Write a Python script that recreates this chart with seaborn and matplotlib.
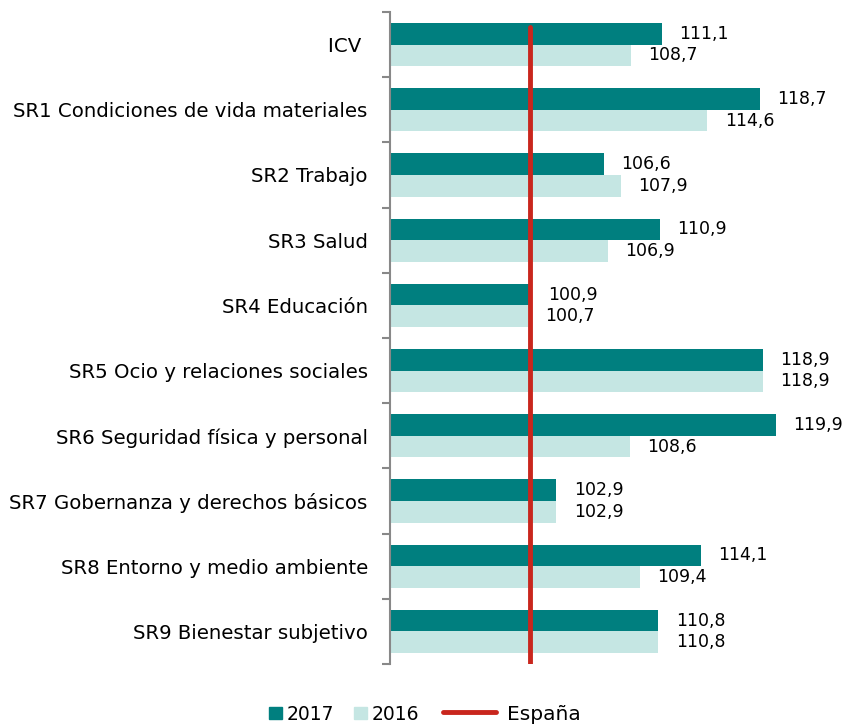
import numpy as np
import pandas as pd
import matplotlib.pyplot as plt
import seaborn as sns
from matplotlib.lines import Line2D
from matplotlib.patches import Patch

# data
categorias = ["ICV ", "SR1 Condiciones de vida materiales", "SR2 Trabajo", "SR3 Salud",
              "SR4 Educación", "SR5 Ocio y relaciones sociales",
              "SR6 Seguridad física y personal", "SR7 Gobernanza y derechos básicos",
              "SR8 Entorno y medio ambiente", "SR9 Bienestar subjetivo"]
v2017 = [111.1, 118.7, 106.6, 110.9, 100.9, 118.9, 119.9, 102.9, 114.1, 110.8]
v2016 = [108.7, 114.6, 107.9, 106.9, 100.7, 118.9, 108.6, 102.9, 109.4, 110.8]
espana = 100.85  # reference line position as drawn

df = pd.DataFrame({"cat": categorias * 2,
                   "valor": v2017 + v2016,
                   "anio": ["2017"] * 10 + ["2016"] * 10})

teal = "#007F7F"
light = "#C5E6E3"
red = "#C9261D"

sns.set_style("white")
plt.rcParams["font.family"] = ["DejaVu Sans"]
plt.rcParams["text.color"] = "black"
plt.rcParams["ytick.color"] = "black"

fig = plt.figure(figsize=(8.47, 7.24), dpi=100)
ax = fig.add_axes([390 / 847, 60 / 724, 451.5 / 847, 652 / 724])

sns.barplot(data=df, y="cat", x="valor", hue="anio", orient="h",
            palette={"2017": teal, "2016": light}, width=0.66, saturation=1,
            hue_order=["2017", "2016"], ax=ax, legend=False, linewidth=0)

ax.set_xlim(90, 125)
ax.set_ylim(9.5, -0.5)
ax.set_xlabel("")
ax.set_ylabel("")
ax.set_xticks([])
ax.set_yticks(np.arange(len(categorias)))
ax.set_yticklabels(categorias, fontsize=14.2)
ax.set_yticks(np.arange(-0.5, len(categorias), 1), minor=True)
ax.tick_params(axis="y", which="major", length=0, pad=16, labelcolor="black")
ax.tick_params(axis="y", which="minor", length=6, color="#888888", width=1.5, left=True)
for s in ["top", "right", "bottom"]:
    ax.spines[s].set_visible(False)
ax.spines["left"].set_color("#888888")
ax.spines["left"].set_linewidth(1.5)

# value labels
for cont in ax.containers:
    ax.bar_label(cont, labels=[f"{v:.1f}".replace(".", ",") for v in cont.datavalues],
                 padding=12.5, fontsize=12.5, color="black")

ax.axvline(espana, ymin=0, ymax=0.977, color=red, linewidth=3.5, zorder=5)

leg1 = fig.legend(handles=[Patch(color=teal, label="2017"), Patch(color=light, label="2016")],
                  loc="center", bbox_to_anchor=(344 / 847, 10 / 724), ncol=2, frameon=False,
                  handlelength=0.65, handleheight=0.65, handletextpad=0.25, columnspacing=1.1,
                  fontsize=13.5)
leg2 = fig.legend(handles=[Line2D([], [], color=red, linewidth=3.5, label="España")],
                  loc="center", bbox_to_anchor=(512 / 847, 10 / 724), frameon=False,
                  handlelength=2.6, handletextpad=0.55, fontsize=14.5)

fig.savefig("out.png", dpi=100)
